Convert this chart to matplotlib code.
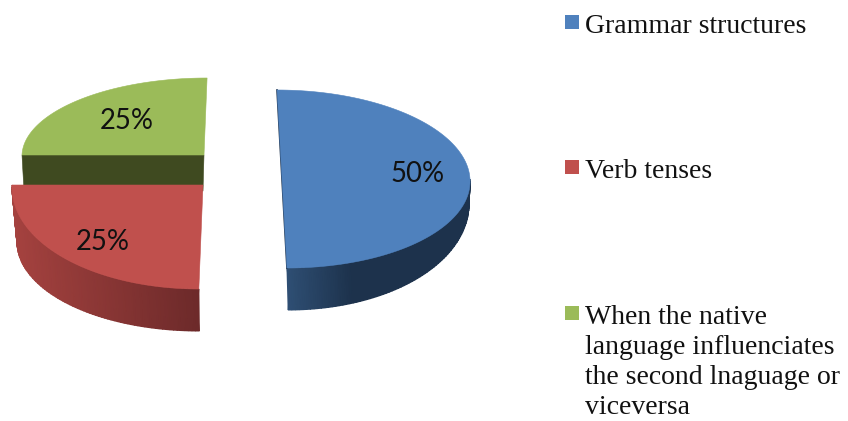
#!/usr/bin/env python3
# -*- coding: utf-8 -*-

import numpy as np
import matplotlib
matplotlib.use('Agg')
import matplotlib.pyplot as plt
from matplotlib.colors import LinearSegmentedColormap
from matplotlib.patches import Polygon, Rectangle

categories = ['Grammar structures', 'Verb tenses',
              'When the native\nlanguage influenciates\nthe second lnaguage or\nviceversa']
shares = [50, 25, 25]
pct_labels = ['50%', '25%', '25%']
top_colors = ['#4f81bd', '#c0504d', '#9bbb59']

# layout of each exploded slice, in image pixels
centers = [(282, 179), (203, 185), (204, 155)]
radii = [(188, 89), (191, 104), (182, 77)]
skews = [0.056, -0.04, -0.04]
# lower rim of the wall: centre y, rx, ry
lower_rims = [(200, 187, 110), (240, 186, 91), (191, 181, 0)]
side_colors = [('#2f4f74', '#1d324c'), ('#a5423f', '#6d2a2a'), ('#3f4a20', '#3f4a20')]
label_pos = [(418, 174), (103, 242), (127, 121)]
legend_y = [22, 167, 313]


def rim(idx, t):
    cx, cy = centers[idx]
    rx, ry = radii[idx]
    y = cy - ry * np.sin(t)
    x = cx + rx * np.cos(t) + skews[idx] * (y - cy)
    return x, y


def lower_rim(idx, t):
    cx = centers[idx][0]
    cy, rx, ry = lower_rims[idx]
    y = cy - ry * np.sin(t)
    x = cx + rx * np.cos(t) + skews[idx] * (y - cy)
    return x, y


def draw_wall(ax, idx, lo, hi, ramp):
    ts = np.linspace(lo, hi, 80)
    x1, y1 = rim(idx, ts)
    x2, y2 = lower_rim(idx, ts)
    X = np.vstack([x1, x2])
    Y = np.vstack([y1, y2])
    # shading runs along the screen x of the wall
    f = (x1 - x1.min()) / (x1.max() - x1.min())
    f = np.clip(f * ramp, 0, 1)
    cmap = LinearSegmentedColormap.from_list('wall', side_colors[idx])
    ax.pcolormesh(X, Y, np.vstack([f, f]), shading='gouraud', cmap=cmap,
                  vmin=0, vmax=1, zorder=2, antialiased=True)


def draw_slice(ax, idx, t1, t2):
    cx, cy = centers[idx]

    if idx == 0:
        draw_wall(ax, idx, -np.pi / 2, 0.0, 2.8)
        # thin dark cut edge
        xa, ya = rim(idx, np.array([t2]))
        xb, yb = rim(idx, np.array([t1]))
        ax.plot([xa[0], xb[0]], [ya[0], yb[0]], color='#1d324c', lw=1.2, zorder=3)
    elif idx == 1:
        draw_wall(ax, idx, -np.pi, -np.pi / 2, 1.0)
    else:
        # flat cut face on the green slice
        col = side_colors[idx][0]
        xl, yl = rim(idx, np.array([t2]))
        face = [(xl[0], yl[0]), (cx, cy), (cx - 1, lower_rims[idx][0]),
                (xl[0] + 2, lower_rims[idx][0])]
        ax.add_patch(Polygon(face, closed=True, fc=col, ec=col, lw=0.4, zorder=1))

    ts = np.linspace(t1, t2, 120)
    xs, ys = rim(idx, ts)
    pts = np.column_stack([xs, ys])
    if idx != 0:
        pts = np.vstack([pts, [cx, cy]])
    ax.add_patch(Polygon(pts, closed=True, fc=top_colors[idx], ec=top_colors[idx],
                         lw=0.4, zorder=4))


def main():
    fig = plt.figure(figsize=(8.48, 4.21), dpi=100, facecolor='white')
    ax = fig.add_axes([0, 0, 1, 1])
    ax.axis('off')

    # slice angles from the shares, clockwise from twelve o'clock
    total = sum(shares)
    start = np.pi / 2
    angles = []
    for s in shares:
        end = start - 2 * np.pi * s / total
        angles.append((end, start))
        start = end

    for idx in [2, 1, 0]:
        draw_slice(ax, idx, angles[idx][0], angles[idx][1])

    # pixel frame, set after the meshes so autoscale cannot move it
    ax.set_xlim(0, 848)
    ax.set_ylim(421, 0)

    for idx, txt in enumerate(pct_labels):
        ax.text(label_pos[idx][0], label_pos[idx][1], txt, fontsize=19.8,
                family='Lato', color='#111111', ha='center', va='center', zorder=6)

    for idx, name in enumerate(categories):
        ax.add_patch(Rectangle((565, legend_y[idx] - 7), 14, 14, fc=top_colors[idx],
                               ec='none'))
        ax.text(585, legend_y[idx] - 8, name, fontsize=20.0, family='Liberation Serif',
                color='#111111', ha='left', va='top', linespacing=1.27)

    fig.savefig('out.png', dpi=100)


if __name__ == '__main__':
    main()
